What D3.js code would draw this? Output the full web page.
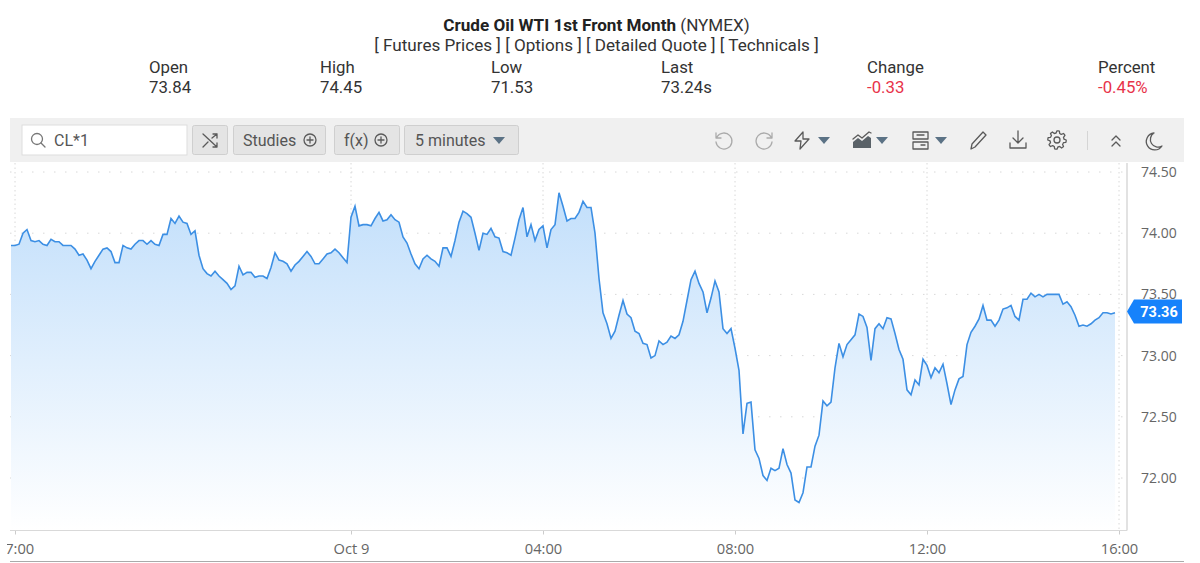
<!DOCTYPE html>
<html>
<head>
<meta charset="utf-8">
<script src="https://cdn.jsdelivr.net/npm/d3@7"></script>
<style>
body { margin: 0; background: #fff; overflow: hidden; }
text { font-family: Roboto, sans-serif; }
.head { font-size: 17.1px; fill: #333; }
.quote { font-size: 16.8px; fill: #333; }
.axis text { font-family: "Open Sans", sans-serif; font-size: 14px; fill: #666; }
.xaxis text { font-size: 14.7px; }
.grid line { stroke: #d8d8d8; stroke-width: 1; }
.btn { fill: #e4e4e4; stroke: #cfcfcf; }
.btntext { font-size: 16px; fill: #555; }
.icon { fill: none; stroke: #5a5a5a; stroke-width: 1.3; stroke-linecap: round; stroke-linejoin: round; }
.caret { fill: #5b7285; stroke: none; }
</style>
</head>
<body>
<svg width="1200" height="563"></svg>
<script>
// 5 minute closes, first one is Oct 8 16:55
var prices = [
    73.90,73.90,73.91,74.00,74.03,73.94,73.93,73.94,73.91,73.90,73.95,73.93,73.93,73.90,73.90,73.90,73.87,73.82,73.83,73.78,
    73.71,73.77,73.82,73.87,73.88,73.85,73.76,73.76,73.90,73.88,73.87,73.91,73.94,73.94,73.91,73.94,73.91,73.90,73.99,73.99,
    74.12,74.08,74.14,74.09,74.08,73.99,74.02,73.82,73.71,73.67,73.65,73.69,73.65,73.62,73.59,73.54,73.57,73.73,73.66,73.68,
    73.68,73.64,73.65,73.65,73.63,73.72,73.84,73.78,73.77,73.75,73.69,73.74,73.77,
    73.81,73.85,73.81,73.75,73.75,73.79,73.83,73.84,73.87,73.84,73.80,73.76,74.13,74.22,74.06,74.07,74.07,74.06,74.12,74.17,
    74.10,74.11,74.15,74.11,74.09,73.97,73.92,73.83,73.75,73.71,73.79,73.82,73.79,73.77,73.73,73.88,73.88,73.81,73.94,74.09,
    74.18,74.16,74.13,74.00,73.86,74.00,73.99,74.04,73.97,73.96,73.85,73.84,73.82,73.96,74.11,74.21,73.97,74.07,73.94,74.03,
    74.06,73.88,74.03,74.07,74.33,74.22,74.10,74.12,74.12,74.17,74.26,74.21,74.21,74.00,73.63,
    73.35,73.26,73.14,73.20,73.33,73.45,73.34,73.31,73.20,73.18,73.10,73.09,72.98,73.00,73.12,73.09,73.11,73.16,73.14,73.17,
    73.28,73.45,73.62,73.69,73.59,73.52,73.35,73.47,73.61,73.52,73.22,73.18,73.22,73.06,72.88,72.36,72.61,72.62,72.23,72.16,
    72.02,71.98,72.08,72.06,72.08,72.24,72.11,72.04,71.82,71.80,71.88,72.09,72.09,72.26,72.35,72.63,72.59,72.62,72.90,73.10,
    72.99,73.09,73.13,73.17,73.34,73.32,73.23,72.96,73.22,73.26,
    73.22,73.31,73.30,73.18,73.05,72.97,72.72,72.68,72.80,72.76,72.97,72.92,72.82,72.90,72.86,72.93,72.77,72.60,72.72,72.81,
    72.83,73.09,73.19,73.24,73.30,73.41,73.29,73.29,73.24,73.29,73.38,73.39,73.41,73.32,73.29,73.46,73.46,73.51,73.48,73.50,
    73.48,73.50,73.50,73.50,73.50,73.42,73.44,73.40,73.33,73.24,73.25,73.24,73.26,73.29,73.31,73.35,73.35,73.34,73.35
];
var lastPrice = 73.36;
var priceTicks = [72, 72.5, 73, 73.5, 74, 74.5];
var timeTicks = [new Date(2024, 9, 8, 17), new Date(2024, 9, 9, 0), new Date(2024, 9, 9, 4),
                 new Date(2024, 9, 9, 8), new Date(2024, 9, 9, 12), new Date(2024, 9, 9, 16)];
var quoteNames = ["Open", "High", "Low", "Last", "Change", "Percent"];
var quoteValues = ["73.84", "74.45", "71.53", "73.24s", "-0.33", "-0.45%"];
var quoteX = [149, 320, 491, 661, 867, 1098];

var svg = d3.select("svg");
var left = 10, right = 1127, bottom = 530.5;

var x = d3.scaleTime().domain([timeTicks[0], timeTicks[5]]).range([15, 1119]);
var y = d3.scaleLinear().domain([72, 74.5]).range([478, 172]);

var start = new Date(2024, 9, 8, 16, 55);
var data = prices.map(function (p, i) {
    return { t: d3.timeMinute.offset(start, i * 5), p: p };
});

var defs = svg.append("defs");
var grad = defs.append("linearGradient").attr("id", "fade")
    .attr("gradientUnits", "userSpaceOnUse")
    .attr("x1", 0).attr("y1", y(74.33)).attr("x2", 0).attr("y2", bottom);
grad.append("stop").attr("offset", 0).attr("stop-color", "#c2dffb");
grad.append("stop").attr("offset", 1).attr("stop-color", "#ffffff");

defs.append("clipPath").attr("id", "plot").append("rect")
    .attr("x", left).attr("y", 163).attr("width", right - left).attr("height", bottom - 163);
// the first time label is cut by the chart's left edge, the clip is in the axis' own coordinates
defs.append("clipPath").attr("id", "axisclip").append("rect")
    .attr("x", 7).attr("y", -5).attr("width", 1190).attr("height", 38);

// header
svg.append("text").attr("x", 596.5).attr("y", 31).attr("text-anchor", "middle")
    .attr("class", "head")
    .html('<tspan font-weight="700" fill="#222">Crude Oil WTI 1st Front Month</tspan> (NYMEX)');
svg.append("text").attr("x", 596.5).attr("y", 51).attr("text-anchor", "middle")
    .attr("class", "head")
    .text("[ Futures Prices ] [ Options ] [ Detailed Quote ] [ Technicals ]");

quoteNames.forEach(function (name, i) {
    svg.append("text").attr("x", quoteX[i]).attr("y", 73).attr("class", "quote").text(name);
    svg.append("text").attr("x", quoteX[i]).attr("y", 93).attr("class", "quote")
        .style("fill", i > 3 ? "#e8334a" : "#333").text(quoteValues[i]);
});

// toolbar
var bar = svg.append("g");
bar.append("rect").attr("x", 10).attr("y", 118).attr("width", 1174).attr("height", 44).attr("fill", "#f0f0f0");
bar.append("rect").attr("x", 22).attr("y", 125).attr("width", 165).attr("height", 30).attr("fill", "#fff").attr("stroke", "#ddd");
bar.append("circle").attr("cx", 37).attr("cy", 139).attr("r", 5.5).attr("class", "icon").style("stroke", "#777");
bar.append("path").attr("d", "M41 143l4 4").attr("class", "icon").style("stroke", "#777");
bar.append("text").attr("x", 54).attr("y", 145.5).attr("class", "btntext").text("CL*1");

function button(bx, w) {
    bar.append("rect").attr("x", bx + 0.5).attr("y", 125.5).attr("width", w).attr("height", 29).attr("rx", 2).attr("class", "btn");
}
function plus(cx) {
    bar.append("circle").attr("cx", cx).attr("cy", 140).attr("r", 6).attr("class", "icon");
    bar.append("path").attr("d", "M" + (cx - 3) + " 140h6M" + cx + " 137v6").attr("class", "icon");
}
button(192, 35);
bar.append("path").attr("class", "icon").attr("d", "M203 134l14 13M203 147l5-5M212 138l5-4M213 134h4v4M217 143v4h-4");
button(233, 92);
bar.append("text").attr("x", 243).attr("y", 145.5).attr("class", "btntext").text("Studies");
plus(310);
button(334, 65);
bar.append("text").attr("x", 344).attr("y", 145.5).attr("class", "btntext").text("f(x)");
plus(381);
button(404, 114);
bar.append("text").attr("x", 415).attr("y", 145.5).attr("class", "btntext").text("5 minutes");
function caret(cx) {
    bar.append("path").attr("d", "M" + (cx - 6) + " 137h12l-6 7z").attr("class", "caret");
}
caret(499);

// right side icons
function icon(d, col) {
    var p = bar.append("path").attr("d", d).attr("class", "icon");
    if (col) p.style("stroke", col);
}
icon("M716 133v5h5M717 137a8 8 0 1 1 -1 5", "#aaa");
icon("M772 133v5h-5M771 137a8 8 0 1 0 1 5", "#aaa");
icon("M803 132l-8 9h6l-1 8 9-10h-6z");
caret(824);
bar.append("path").attr("d", "M853 148v-6l5-4 4 3 6-5 3 2v10z").attr("fill", "#5a6268");
icon("M853 139l5-4 4 3 7-6 2 1");
caret(882);
icon("M913 132h15v7h-15zM913 142h15v7h-15zM917 135h7M921 145h4");
caret(941);
icon("M971 149l1-5 11-12 3 3-11 12z");
icon("M1018 131v11M1013 138l5 5 5-5M1010 143v5h16v-5");
// gear outline
var gear = d3.lineRadial().curve(d3.curveLinearClosed)(d3.range(48).map(function (i) {
    return [i / 48 * 2 * Math.PI, (i % 6 < 3) ? 9.2 : 7];
}));
bar.append("path").attr("d", gear).attr("transform", "translate(1057,140)").attr("class", "icon");
bar.append("circle").attr("cx", 1057).attr("cy", 140).attr("r", 3).attr("class", "icon");
bar.append("path").attr("d", "M1087.5 131v19").attr("stroke", "#d5d5d5");
icon("M1112 140l4-4 4 4M1112 146l4-4 4 4");
icon("M1162 146a8.5 8.5 0 1 1 -8-13 7 7 0 0 0 8 13z");

// grid
svg.append("g").attr("class", "grid")
    .selectAll("line").data(priceTicks).enter().append("line")
    .attr("stroke-dasharray", "1.5 9.5")
    .attr("x1", left).attr("x2", right)
    .attr("y1", function (d) { return y(d); }).attr("y2", function (d) { return y(d); });
svg.append("g").attr("class", "grid")
    .selectAll("line").data(timeTicks).enter().append("line")
    .attr("stroke-dasharray", "1.5 3")
    .attr("x1", function (d) { return x(d); }).attr("x2", function (d) { return x(d); })
    .attr("y1", 163).attr("y2", bottom);

// area and line
var area = d3.area().x(function (d) { return x(d.t); }).y0(bottom).y1(function (d) { return y(d.p); });
var line = d3.line().x(function (d) { return x(d.t); }).y(function (d) { return y(d.p); });
var plot = svg.append("g").attr("clip-path", "url(#plot)");
plot.append("path").datum(data).attr("d", area).attr("fill", "url(#fade)");
plot.append("path").datum(data).attr("d", line).attr("fill", "none")
    .attr("stroke", "#3c8fe4").attr("stroke-width", 1.6);

// axes
var fmt = function (d) {
    return d.getHours() === 0 ? "Oct " + d.getDate() : d3.timeFormat("%H:%M")(d);
};
var xAxis = svg.append("g").attr("class", "axis xaxis").attr("clip-path", "url(#axisclip)")
    .attr("transform", "translate(0," + bottom + ")")
    .call(d3.axisBottom(x).tickValues(timeTicks).tickFormat(fmt).tickSize(4).tickPadding(9));
xAxis.select(".domain").remove();
xAxis.selectAll("line").attr("stroke", "#ccc");
svg.append("path").attr("d", "M" + left + " " + bottom + "H" + right).attr("stroke", "#d9d9d9").attr("stroke-width", 1);
svg.append("path").attr("d", "M" + right + " 163V" + bottom).attr("stroke", "#d9d9d9").attr("stroke-width", 1.5);
svg.append("path").attr("d", "M10 561.5H1184").attr("stroke", "#aaa").attr("stroke-width", 1);

var yAxis = svg.append("g").attr("class", "axis")
    .attr("transform", "translate(" + right + ",0)")
    .call(d3.axisRight(y).tickValues(priceTicks).tickFormat(d3.format(".2f")).tickSize(0).tickPadding(14));
yAxis.select(".domain").remove();

// last price tag
var ty = y(lastPrice);
svg.append("path").attr("fill", "#1682fb")
    .attr("d", "M1127 " + ty + "l7-12h48v24h-48z");
svg.append("text").attr("x", 1159).attr("y", ty + 5).attr("text-anchor", "middle")
    .attr("fill", "#fff").attr("font-weight", 700).attr("font-size", 14.5).text(d3.format(".2f")(lastPrice));
</script>
</body>
</html>
